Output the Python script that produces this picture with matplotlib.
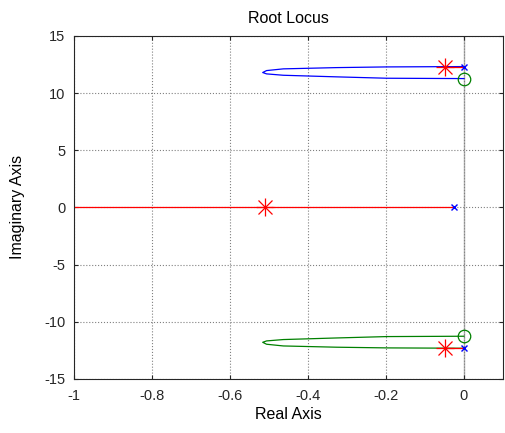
import numpy as np
import matplotlib.pyplot as plt

plt.rcParams['font.family'] = ['Liberation Sans', 'DejaVu Sans']
plt.rcParams['axes.unicode_minus'] = False

# upper complex branch (pole -> tip -> zero), lower branch is its mirror
branch_re = [0.0, -0.198, -0.326, -0.463, -0.506, -0.516, -0.506, -0.463, -0.326, -0.198, 0.0]
branch_im = [12.32, 12.29, 12.23, 12.12, 11.97, 11.80, 11.68, 11.56, 11.42, 11.30, 11.27]

real_branch_re = [-0.025, -1.1]
real_branch_im = [0.0, 0.0]

poles_re = [0.0, 0.0, -0.025]
poles_im = [12.3, -12.3, 0.0]
zeros_re = [0.0, 0.0]
zeros_im = [11.27, -11.27]
sel_re = [-0.049, -0.049, -0.51]
sel_im = [12.3, -12.3, 0.0]

fig = plt.figure(figsize=(5.06, 4.33), dpi=100)
ax = fig.add_axes([0.146, 0.125, 0.848, 0.792])

ax.grid(True, linestyle=':', color='#808080', linewidth=0.8)
ax.axvline(0, color='#b0b0b0', linewidth=1.0, zorder=1)

ax.plot(branch_re, branch_im, color='blue', linewidth=0.9)
ax.plot(branch_re, -np.array(branch_im), color='green', linewidth=0.9)
ax.plot(real_branch_re, real_branch_im, color='red', linewidth=0.9)

# short red pieces between selected points and the poles
ax.plot([sel_re[0], poles_re[0]], [sel_im[0], poles_im[0]], color='red', linewidth=0.9)
ax.plot([sel_re[1], poles_re[1]], [sel_im[1], poles_im[1]], color='red', linewidth=0.9)

ax.plot(poles_re, poles_im, 'x', color='blue', markersize=5, markeredgewidth=1.0)
ax.plot(zeros_re, zeros_im, 'o', markerfacecolor='none', markeredgecolor='green',
        markersize=9, markeredgewidth=0.9)
# matlab style asterisk: + and x on top of each other
ax.plot(sel_re, sel_im, '+', color='red', markersize=13, markeredgewidth=0.9)
ax.plot(sel_re, sel_im, 'x', color='red', markersize=10, markeredgewidth=0.9)

ax.set_xlim(-1, 0.1)
ax.set_ylim(-15, 15)
ax.set_xticks([-1, -0.8, -0.6, -0.4, -0.2, 0])
ax.set_xticklabels(['-1', '-0.8', '-0.6', '-0.4', '-0.2', '0'])
ax.set_yticks([-15, -10, -5, 0, 5, 10, 15])
ax.tick_params(direction='in', top=True, right=True, labelsize=10.5,
               colors='#262626', length=3)
ax.tick_params(axis='x', pad=7)
ax.tick_params(axis='y', pad=6)
for s in ax.spines.values():
    s.set_color('#262626')
    s.set_linewidth(0.8)

ax.set_title('Root Locus', fontsize=11.5, pad=9)
ax.set_xlabel('Real Axis', fontsize=11.5, labelpad=3)
ax.set_ylabel('Imaginary Axis', fontsize=11.5, labelpad=14)

fig.savefig('out.png', dpi=100)
